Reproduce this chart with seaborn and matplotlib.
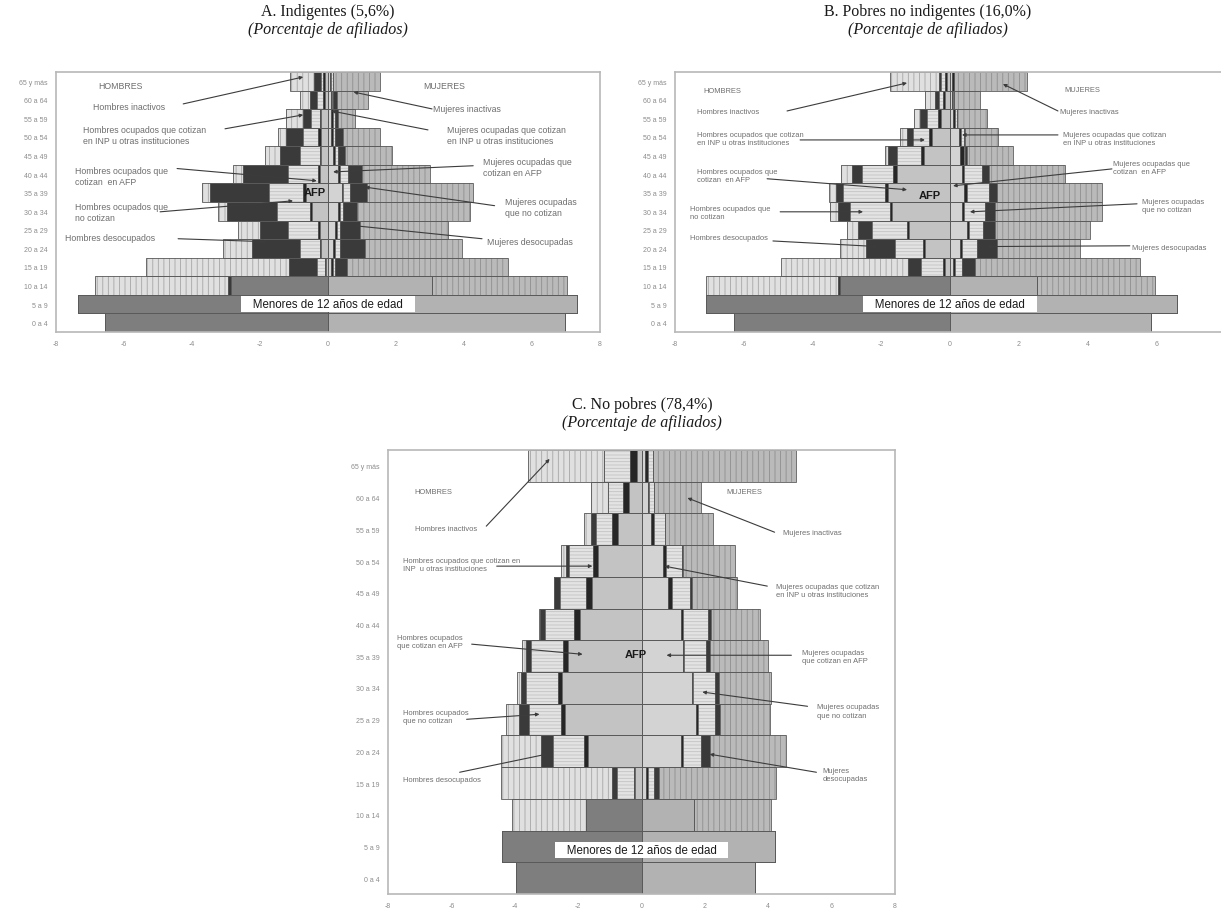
import numpy as np
import pandas as pd
import matplotlib
matplotlib.use('Agg')
import matplotlib.pyplot as plt
import seaborn as sns

AGES = ['65 y más', '60 a 64', '55 a 59', '50 a 54', '45 a 49', '40 a 44', '35 a 39',
        '30 a 34', '25 a 29', '20 a 24', '15 a 19', '10 a 14', '5 a 9', '0 a 4']
XTICKS = [-8, -6, -4, -2, 0, 2, 4, 6, 8]

# segments, from the centre outwards
CATS = ['menores', 'afp', 'inp', 'nocot', 'desoc', 'inact']

# A. Indigentes (hombres / mujeres)
a_h_menores = [0, 0, 0, 0, 0, 0, 0, 0, 0, 0, 0, 2.84, 7.34, 6.56]
a_h_afp = [0.10, 0.10, 0.20, 0.20, 0.20, 0.25, 0.64, 0.46, 0.25, 0.20, 0.05, 0, 0, 0]
a_h_inp = [0.05, 0.05, 0.05, 0.10, 0.05, 0.05, 0.10, 0.08, 0.05, 0.05, 0.03, 0, 0, 0]
a_h_nocot = [0.05, 0.18, 0.24, 0.43, 0.57, 0.87, 1.01, 0.96, 0.87, 0.58, 0.25, 0, 0, 0]
a_h_desoc = [0.20, 0.20, 0.24, 0.50, 0.60, 1.33, 1.73, 1.47, 0.83, 1.42, 0.81, 0.10, 0, 0]
a_h_inact = [0.72, 0.29, 0.50, 0.24, 0.44, 0.29, 0.24, 0.26, 0.64, 0.85, 4.21, 3.91, 0, 0]

a_m_menores = [0, 0, 0, 0, 0, 0, 0, 0, 0, 0, 0, 3.05, 7.31, 6.97]
a_m_afp = [0.05, 0.08, 0.10, 0.10, 0.15, 0.30, 0.40, 0.30, 0.20, 0.15, 0.10, 0, 0, 0]
a_m_inp = [0.05, 0.05, 0.05, 0.05, 0.05, 0.05, 0.05, 0.05, 0.05, 0.05, 0.05, 0, 0, 0]
a_m_nocot = [0.05, 0.03, 0.05, 0.05, 0.10, 0.25, 0.20, 0.10, 0.10, 0.15, 0.05, 0, 0, 0]
a_m_desoc = [0.00, 0.09, 0.10, 0.23, 0.20, 0.39, 0.49, 0.39, 0.59, 0.74, 0.35, 0, 0, 0]
a_m_inact = [1.38, 0.94, 0.50, 1.10, 1.37, 2.01, 3.13, 3.34, 2.60, 2.84, 4.75, 3.97, 0, 0]

# B. Pobres no indigentes
b_h_menores = [0, 0, 0, 0, 0, 0, 0, 0, 0, 0, 0, 3.20, 7.09, 6.28]
b_h_afp = [0.10, 0.15, 0.25, 0.53, 0.76, 1.53, 1.80, 1.70, 1.20, 0.73, 0.15, 0, 0, 0]
b_h_inp = [0.05, 0.05, 0.10, 0.07, 0.07, 0.12, 0.10, 0.05, 0.06, 0.05, 0.05, 0, 0, 0]
b_h_nocot = [0.10, 0.12, 0.33, 0.47, 0.72, 0.92, 1.20, 1.15, 1.02, 0.82, 0.63, 0, 0, 0]
b_h_desoc = [0.07, 0.12, 0.19, 0.19, 0.24, 0.29, 0.22, 0.35, 0.39, 0.83, 0.38, 0.05, 0, 0]
b_h_inact = [1.43, 0.29, 0.18, 0.20, 0.10, 0.30, 0.19, 0.25, 0.33, 0.77, 3.72, 3.84, 0, 0]

b_m_menores = [0, 0, 0, 0, 0, 0, 0, 0, 0, 0, 0, 2.54, 6.60, 5.84]
b_m_afp = [0.05, 0.05, 0.10, 0.25, 0.30, 0.35, 0.40, 0.35, 0.50, 0.30, 0.10, 0, 0, 0]
b_m_inp = [0.08, 0.03, 0.05, 0.07, 0.10, 0.05, 0.10, 0.05, 0.05, 0.05, 0.05, 0, 0, 0]
b_m_nocot = [0.00, 0.03, 0.05, 0.08, 0.05, 0.52, 0.62, 0.62, 0.42, 0.43, 0.19, 0, 0, 0]
b_m_desoc = [0.00, 0.00, 0.00, 0.05, 0.04, 0.20, 0.24, 0.29, 0.34, 0.58, 0.39, 0, 0, 0]
b_m_inact = [2.10, 0.76, 0.89, 0.95, 1.35, 2.23, 3.06, 3.11, 2.77, 2.43, 4.80, 3.43, 0, 0]

# C. No pobres
c_h_menores = [0, 0, 0, 0, 0, 0, 0, 0, 0, 0, 0, 1.75, 4.40, 3.96]
c_h_afp = [0.15, 0.40, 0.75, 1.38, 1.56, 1.94, 2.33, 2.52, 2.40, 1.70, 0.20, 0, 0, 0]
c_h_inp = [0.22, 0.17, 0.18, 0.16, 0.19, 0.18, 0.16, 0.13, 0.14, 0.10, 0.03, 0, 0, 0]
c_h_nocot = [0.80, 0.50, 0.50, 0.74, 0.82, 0.93, 1.00, 1.00, 1.02, 1.00, 0.55, 0, 0, 0]
c_h_desoc = [0.02, 0.00, 0.15, 0.10, 0.20, 0.15, 0.15, 0.16, 0.32, 0.37, 0.15, 0, 0, 0]
c_h_inact = [2.40, 0.52, 0.24, 0.16, 0.00, 0.05, 0.13, 0.12, 0.39, 1.26, 3.50, 2.34, 0, 0]

c_m_menores = [0, 0, 0, 0, 0, 0, 0, 0, 0, 0, 0, 1.67, 4.20, 3.57]
c_m_afp = [0.10, 0.20, 0.30, 0.67, 0.83, 1.25, 1.30, 1.58, 1.73, 1.25, 0.15, 0, 0, 0]
c_m_inp = [0.10, 0.05, 0.10, 0.10, 0.14, 0.05, 0.05, 0.05, 0.05, 0.05, 0.05, 0, 0, 0]
c_m_nocot = [0.15, 0.15, 0.35, 0.51, 0.55, 0.80, 0.68, 0.68, 0.53, 0.58, 0.20, 0, 0, 0]
c_m_desoc = [0.00, 0.00, 0.00, 0.02, 0.08, 0.10, 0.13, 0.15, 0.16, 0.28, 0.14, 0, 0, 0]
c_m_inact = [4.53, 1.48, 1.50, 1.64, 1.41, 1.53, 1.83, 1.63, 1.57, 2.41, 3.71, 2.42, 0, 0]

FILL_H = {'menores': '#7e7e7e', 'afp': '#c3c3c3', 'inp': '#262626', 'nocot': '#e3e3e3',
          'desoc': '#3a3a3a', 'inact': '#e0e0e0'}
FILL_M = {'menores': '#b2b2b2', 'afp': '#d3d3d3', 'inp': '#262626', 'nocot': '#e3e3e3',
          'desoc': '#3a3a3a', 'inact': '#bababa'}
HATCHES = {'nocot': '-----', 'inact': '|||'}
HATCH_H = {'nocot': '#c2c2c2', 'inact': '#a5a5a5'}
HATCH_M = {'nocot': '#c2c2c2', 'inact': '#8e8e8e'}

sns.set_style('white')
plt.rcParams['font.family'] = ['Liberation Sans', 'DejaVu Sans']
plt.rcParams['hatch.linewidth'] = 0.6


def draw_side(ax, parts, sign, fills, hcols):
    cum = np.cumsum(np.array(parts, dtype=float), axis=0)
    # widest bar first, inner segments are painted over it
    for k in range(len(CATS) - 1, -1, -1):
        cat = CATS[k]
        df = pd.DataFrame({'edad': AGES, 'pct': sign * cum[k]})
        sns.barplot(data=df, x='pct', y='edad', order=AGES, orient='h', ax=ax,
                    color=fills[cat], saturation=1, width=1, errorbar=None,
                    hatch=HATCHES.get(cat), edgecolor=hcols.get(cat, fills[cat]), linewidth=0)
    for k in range(len(CATS)):
        df = pd.DataFrame({'edad': AGES, 'pct': sign * cum[k]})
        sns.barplot(data=df, x='pct', y='edad', order=AGES, orient='h', ax=ax,
                    color='#5a5a5a', fill=False, width=1, errorbar=None, linewidth=0.6)


def draw_panel(ax, hombres, mujeres, notes, afp_xy, box_y, fs, xlabels):
    draw_side(ax, hombres, -1, FILL_H, HATCH_H)
    draw_side(ax, mujeres, 1, FILL_M, HATCH_M)
    ax.set_xlim(-8, 8)
    ax.set_ylim(13.5, -0.5)
    ax.set_xticks(XTICKS)
    ax.set_xticklabels(xlabels)
    ax.set_yticks(range(len(AGES)))
    ax.set_yticklabels(AGES)
    ax.set_xlabel('')
    ax.set_ylabel('')
    ax.tick_params(axis='both', labelsize=5, colors='#8c8c8c', length=2, pad=4)
    for s in ax.spines.values():
        s.set_visible(True)
        s.set_color('#b8b8b8')
        s.set_linewidth(1.2)

    for txt, tx, ty, tail, tip in notes:
        ax.text(tx, ty, txt, fontsize=fs, color='#6e6e6e', ha='left', va='center',
                linespacing=1.25)
        if tail is not None:
            ax.annotate('', xy=tip, xytext=tail,
                        arrowprops=dict(arrowstyle='-|>', color='#3c3c3c', lw=0.8,
                                        mutation_scale=5, shrinkA=0, shrinkB=0))
    ax.text(afp_xy[0], afp_xy[1], 'AFP', fontsize=8, fontweight='bold', color='#1a1a1a',
            ha='center', va='center')
    ax.text(0, box_y, '   Menores de 12 años de edad   ', fontsize=8.3, color='#1a1a1a',
            ha='center', va='center',
            bbox=dict(boxstyle='square,pad=0.18', facecolor='white', edgecolor='none'))


notes_a = [
    ('HOMBRES', -6.76, 0.25, None, None),
    ('Hombres inactivos', -6.9, 1.38, (-4.26, 1.22), (-0.73, -0.23)),
    ('Hombres ocupados que cotizan\nen INP u otras instituciones', -7.2, 2.89, (-3.03, 2.56), (-0.73, 1.81)),
    ('Hombres ocupados que\ncotizan  en AFP', -7.44, 5.09, (-4.44, 4.7), (-0.33, 5.36)),
    ('Hombres ocupados que\nno cotizan', -7.44, 7.03, (-4.94, 7.03), (-1.03, 6.44)),
    ('Hombres desocupados', -7.74, 8.4, (-4.41, 8.48), (-1.8, 8.64)),
    ('MUJERES', 2.8, 0.25, None, None),
    ('Mujeres inactivas', 3.09, 1.49, (3.06, 1.49), (0.75, 0.58)),
    ('Mujeres ocupadas que cotizan\nen INP u otras instituciones', 3.5, 2.89, (2.94, 2.62), (0.1, 1.6)),
    ('Mujeres ocupadas que\ncotizan en AFP', 4.56, 4.6, (4.27, 4.55), (0.15, 4.88)),
    ('Mujeres ocupadas\nque no cotizan', 5.2, 6.76, (4.9, 6.7), (1.09, 5.7)),
    ('Mujeres desocupadas', 4.68, 8.64, (4.53, 8.48), (0.79, 7.78)),
]
notes_b = [
    ('HOMBRES', -7.18, 0.52, None, None),
    ('Hombres inactivos', -7.35, 1.65, (-4.74, 1.6), (-1.25, 0.09)),
    ('Hombres ocupados que cotizan\nen INP u otras instituciones', -7.35, 3.1, (-4.36, 3.16), (-0.73, 3.16)),
    ('Hombres ocupados que\ncotizan  en AFP', -7.35, 5.09, (-5.32, 5.25), (-1.25, 5.84)),
    ('Hombres ocupados que\nno cotizan', -7.56, 7.08, (-4.94, 7.03), (-2.53, 7.03)),
    ('Hombres desocupados', -7.56, 8.4, (-5.15, 8.6), (-2.12, 8.9)),
    ('MUJERES', 3.34, 0.47, None, None),
    ('Mujeres inactivas', 3.2, 1.65, (3.14, 1.6), (1.54, 0.15)),
    ('Mujeres ocupadas que cotizan\nen INP u otras instituciones', 3.28, 3.1, (3.14, 2.89), (0.35, 2.89)),
    ('Mujeres ocupadas que\ncotizan  en AFP', 4.74, 4.66, (4.71, 4.72), (0.09, 5.63)),
    ('Mujeres ocupadas\nque no cotizan', 5.58, 6.7, (5.44, 6.6), (0.58, 7.03)),
    ('Mujeres desocupadas', 5.3, 8.96, (5.23, 8.86), (1.08, 8.9)),
]
notes_c = [
    ('HOMBRES', -7.16, 0.82, None, None),
    ('Hombres inactivos', -7.16, 1.96, (-4.9, 1.9), (-2.9, -0.22)),
    ('Hombres ocupados que cotizan en\nINP  u otras instituciones', -7.54, 3.1, (-4.57, 3.16), (-1.55, 3.16)),
    ('Hombres ocupados\nque cotizan en AFP', -7.73, 5.53, (-5.36, 5.62), (-1.86, 5.94)),
    ('Hombres ocupados\nque no cotizan', -7.54, 7.89, (-5.52, 7.99), (-3.22, 7.83)),
    ('Hombres desocupados', -7.54, 9.88, (-5.74, 9.66), (-3.0, 9.09)),
    ('MUJERES', 2.68, 0.82, None, None),
    ('Mujeres inactivas', 4.45, 2.09, (4.2, 2.09), (1.45, 1.01)),
    ('Mujeres ocupadas que cotizan\nen INP u otras instituciones', 4.26, 3.92, (3.97, 3.79), (0.73, 3.16)),
    ('Mujeres ocupadas\nque cotizan en AFP', 5.05, 6.0, (4.73, 5.97), (0.79, 5.97)),
    ('Mujeres ocupadas\nque no cotizan', 5.55, 7.73, (5.24, 7.58), (1.92, 7.13)),
    ('Mujeres\ndesocupadas', 5.71, 9.72, (5.52, 9.66), (2.15, 9.09)),
]

fig = plt.figure(figsize=(12.21, 9.12), dpi=100)
ax_a = fig.add_axes([0.0459, 0.6349, 0.4455, 0.2851])
ax_b = fig.add_axes([0.5528, 0.6349, 0.4505, 0.2851])
ax_c = fig.add_axes([0.3178, 0.0186, 0.4152, 0.4868])

full_labels = [str(t) for t in XTICKS]
# the right end of panel B runs past the page edge, its last label is not shown
b_labels = full_labels[:-1] + ['']

draw_panel(ax_a,
           [a_h_menores, a_h_afp, a_h_inp, a_h_nocot, a_h_desoc, a_h_inact],
           [a_m_menores, a_m_afp, a_m_inp, a_m_nocot, a_m_desoc, a_m_inact],
           notes_a, (-0.4, 5.95), 11.98, 6.3, full_labels)
draw_panel(ax_b,
           [b_h_menores, b_h_afp, b_h_inp, b_h_nocot, b_h_desoc, b_h_inact],
           [b_m_menores, b_m_afp, b_m_inp, b_m_nocot, b_m_desoc, b_m_inact],
           notes_b, (-0.58, 6.1), 11.98, 5.4, b_labels)
draw_panel(ax_c,
           [c_h_menores, c_h_afp, c_h_inp, c_h_nocot, c_h_desoc, c_h_inact],
           [c_m_menores, c_m_afp, c_m_inp, c_m_nocot, c_m_desoc, c_m_inact],
           notes_c, (-0.19, 5.94), 12.1, 5.4, full_labels)

serif = ['Liberation Serif', 'DejaVu Serif']
titles = [('A. Indigentes (5,6%)', 328, 12), ('B. Pobres no indigentes (16,0%)', 928, 12),
          ('C. No pobres (78,4%)', 642, 405)]
for t, px, py in titles:
    fig.text(px / 1221, 1 - py / 912, t, ha='center', va='center', fontsize=11.5,
             family=serif, color='#1a1a1a')
    fig.text(px / 1221, 1 - (py + 18) / 912, '(Porcentaje de afiliados)', ha='center',
             va='center', fontsize=11.5, family=serif, style='italic', color='#1a1a1a')

fig.savefig('out.png', dpi=100)
